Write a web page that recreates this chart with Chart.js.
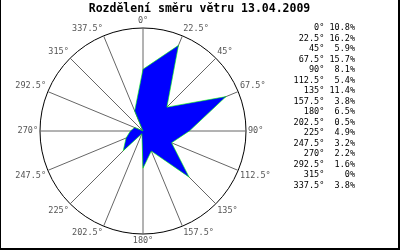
<!DOCTYPE html>
<html>
<head>
<meta charset="utf-8">
<script src="https://cdn.jsdelivr.net/npm/chart.js@4/dist/chart.umd.min.js"></script>
<style>
  body { margin: 0; background: #fff; }
  #box {
    width: 397px; height: 248px;
    border-left: 1px solid #000; border-right: 2px solid #000; border-bottom: 2px solid #000;
    position: relative;
  }
</style>
</head>
<body>
<div id="box"><canvas id="wind" width="397" height="248"></canvas></div>
<script>
const directions = ['0°', '22.5°', '45°', '67.5°', '90°', '112.5°', '135°', '157.5°',
  '180°', '202.5°', '225°', '247.5°', '270°', '292.5°', '315°', '337.5°'];
const shares = [10.8, 16.2, 5.9, 15.7, 8.1, 5.4, 11.4, 3.8, 6.5, 0.5, 4.9, 3.2, 2.2, 1.6, 0, 3.8];
const chartTitle = 'Rozdělení směru větru 13.04.2009';

const mono = 'DejaVu Sans Mono';

function legendRows(chart) {
  return directions.map((d, i) => ({
    text: d.padStart(6) + ' ' + (shares[i] + '%').padStart(5),
    fillStyle: 'rgba(0,0,0,0)',
    strokeStyle: 'rgba(0,0,0,0)',
    lineWidth: 0,
    fontColor: '#000',
    hidden: false,
    index: i
  }));
}

new Chart(document.getElementById('wind'), {
  type: 'radar',
  data: {
    labels: directions,
    datasets: [{
      label: 'směr větru',
      data: shares,
      backgroundColor: '#0000ff',
      borderColor: '#00ff00',
      borderWidth: 0.6,
      pointRadius: 0,
      fill: true,
      tension: 0
    }]
  },
  options: {
    responsive: false,
    animation: false,
    layout: { padding: 0 },
    plugins: {
      title: {
        display: true,
        text: chartTitle,
        color: '#000',
        font: { family: mono, size: 11.5, weight: 'bold' },
        padding: { top: 2, bottom: 0 }
      },
      legend: {
        position: 'right',
        align: 'start',
        fullSize: false,
        onClick: null,
        title: { display: true, text: ' ', font: { size: 1 }, padding: { top: 0, bottom: 5 } },
        labels: {
          generateLabels: legendRows,
          boxWidth: 2,
          boxHeight: 0,
          padding: 2,
          color: '#000',
          font: { family: mono, size: 8.5, lineHeight: 1 }
        }
      },
      tooltip: { enabled: false }
    },
    scales: {
      r: {
        min: 0,
        max: 18,
        startAngle: 0,
        ticks: { display: false, stepSize: 18 },
        grid: { circular: true, color: '#000', lineWidth: 1 },
        angleLines: { color: '#666', lineWidth: 1 },
        pointLabels: {
          color: '#555',
          padding: 2,
          font: { family: mono, size: 8.5 }
        }
      },
      // empty strip right of the legend
      gap: {
        type: 'linear',
        position: 'right',
        weight: 2000,
        ticks: { display: false },
        grid: { display: false },
        border: { display: false },
        afterFit: scale => { scale.width = 33; }
      }
    }
  }
});
</script>
</body>
</html>
